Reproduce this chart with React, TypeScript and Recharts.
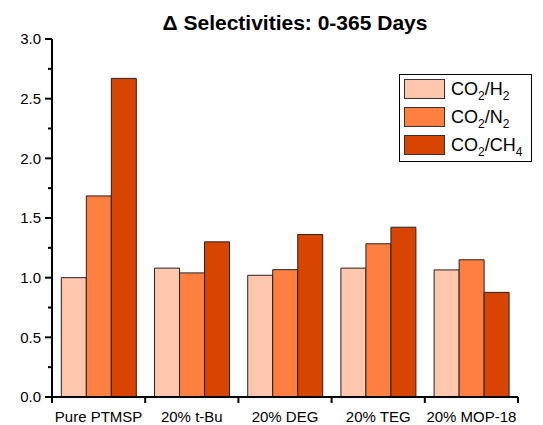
import React from "react";
import { BarChart, Bar, XAxis, YAxis } from "recharts";

const categories = ["Pure PTMSP", "20% t-Bu", "20% DEG", "20% TEG", "20% MOP-18"];
const co2h2 = [1.0, 1.08, 1.02, 1.08, 1.065];
const co2n2 = [1.685, 1.04, 1.067, 1.284, 1.15];
const co2ch4 = [2.67, 1.3, 1.362, 1.423, 0.877];
const yTicks = [0, 0.25, 0.5, 0.75, 1, 1.25, 1.5, 1.75, 2, 2.25, 2.5, 2.75, 3];

const data = categories.map((c, i) => ({ name: c, h2: co2h2[i], n2: co2n2[i], ch4: co2ch4[i] }));

const COLORS = ["#FFC8AE", "#FF7F40", "#D84500"];
const FONT = "'Liberation Sans', Arial, sans-serif";

const W = 535;
const H = 417;
const M = { top: 31, right: 25, left: 0, bottom: 0 };
const YW = 44;
const XH = 28;
const plotW = W - M.left - M.right - YW;
const band = plotW / categories.length;

const YTick = (props: any) => {
  const { y, payload } = props;
  const v = payload.value;
  const major = Math.abs(v * 2 - Math.round(v * 2)) < 1e-6;
  const ax = YW + M.left;
  return (
    <g>
      <line x1={ax - (major ? 7 : 4)} x2={ax} y1={y} y2={y} stroke="#000" strokeWidth={2} />
      {major && (
        <text x={ax - 11} y={y} dy="0.35em" textAnchor="end" fontSize={15} fontFamily={FONT} fill="#000">
          {v.toFixed(1)}
        </text>
      )}
    </g>
  );
};

const XTick = (props: any) => {
  const { x, y, payload, index } = props;
  const ay = y - 8;
  return (
    <g>
      {index === 0 && <line x1={x - band / 2} x2={x - band / 2} y1={ay} y2={ay + 6} stroke="#000" strokeWidth={2} />}
      <line x1={x + band / 2} x2={x + band / 2} y1={ay} y2={ay + 6} stroke="#000" strokeWidth={2} />
      <text x={x} y={ay + 14} dy="0.71em" textAnchor="middle" fontSize={15} fontFamily={FONT} fill="#000">
        {payload.value}
      </text>
    </g>
  );
};

const legendItems = [
  { sub: "H", subN: "2", color: COLORS[0] },
  { sub: "N", subN: "2", color: COLORS[1] },
  { sub: "CH", subN: "4", color: COLORS[2] },
];

const subStyle: React.CSSProperties = { fontSize: 12, verticalAlign: "-5px", lineHeight: 0 };

const LegendBox = () => (
  <div
    style={{
      position: "absolute",
      left: 399 - 8,
      top: 74 - 8,
      width: 133,
      height: 88,
      border: "1px solid #000",
      background: "#fff",
      fontFamily: FONT,
      fontSize: 18,
      boxSizing: "border-box",
    }}
  >
    {legendItems.map((it, i) => (
      <div key={i} style={{ position: "absolute", left: 4, top: 4 + i * 28, height: 20, display: "flex", alignItems: "center" }}>
        <div style={{ width: 41, height: 20, background: it.color, border: "1px solid #333", boxSizing: "border-box" }} />
        <span style={{ marginLeft: 6, lineHeight: "20px", whiteSpace: "nowrap" }}>
          CO<sub style={subStyle}>2</sub>/{it.sub}
          <sub style={subStyle}>{it.subN}</sub>
        </span>
      </div>
    ))}
  </div>
);

export default function App() {
  return (
    <div style={{ position: "relative", width: W, height: H }}>
      <div
        style={{
          position: "absolute",
          left: 0,
          width: W,
          top: 4,
          textAlign: "center",
          paddingLeft: 39,
          boxSizing: "border-box",
          fontFamily: FONT,
          fontWeight: "bold",
          fontSize: 21,
          lineHeight: "22px",
          color: "#000",
        }}
      >
        Δ Selectivities: 0-365 Days
      </div>
      <BarChart width={W} height={H} data={data} margin={M} barCategoryGap="10%" barGap={0}>
        <XAxis
          dataKey="name"
          height={XH}
          tickLine={false}
          axisLine={{ stroke: "#000", strokeWidth: 2 }}
          tick={<XTick />}
          interval={0}
        />
        <YAxis
          width={YW}
          domain={[0, 3]}
          ticks={yTicks}
          interval={0}
          tickLine={false}
          axisLine={{ stroke: "#000", strokeWidth: 2 }}
          tick={<YTick />}
        />
        <Bar dataKey="h2" fill={COLORS[0]} stroke="#222" strokeWidth={1} isAnimationActive={false} />
        <Bar dataKey="n2" fill={COLORS[1]} stroke="#222" strokeWidth={1} isAnimationActive={false} />
        <Bar dataKey="ch4" fill={COLORS[2]} stroke="#222" strokeWidth={1} isAnimationActive={false} />
      </BarChart>
      <LegendBox />
    </div>
  );
}
